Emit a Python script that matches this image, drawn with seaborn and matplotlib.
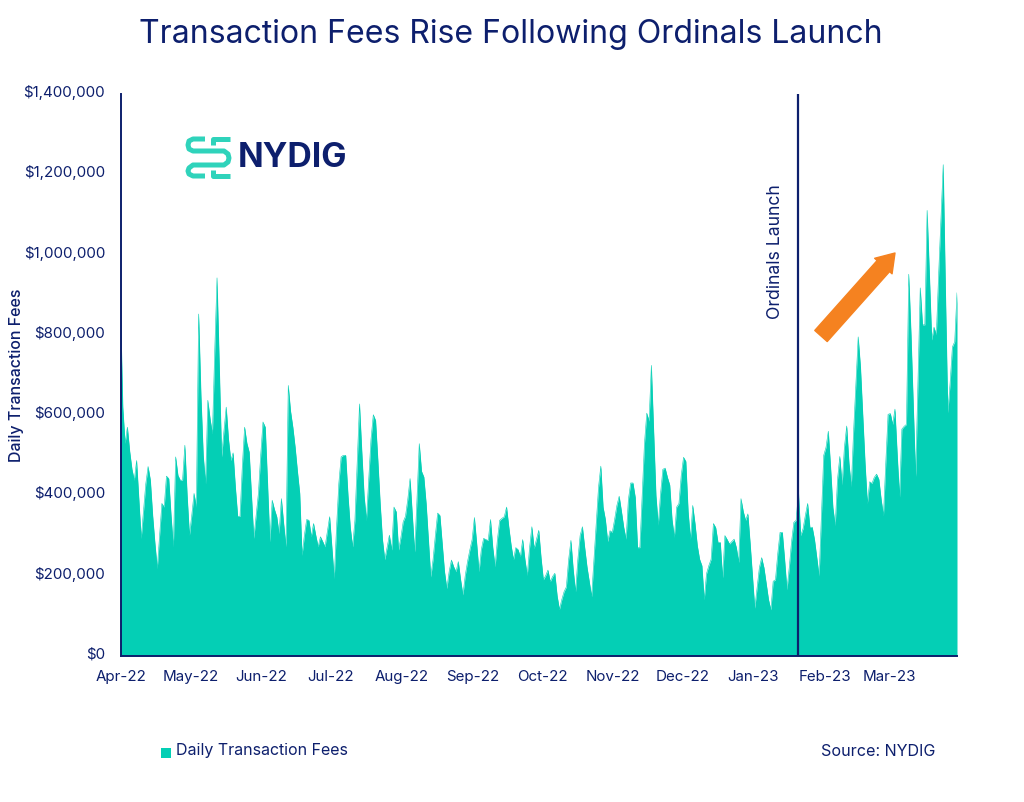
# =========================================
# TRANSACTION FEES FOLLOWING ORDINALS LAUNCH
# =========================================

import numpy as np
import pandas as pd

import matplotlib
matplotlib.use("Agg")
import matplotlib.pyplot as plt
import matplotlib.dates as mdates
from matplotlib.ticker import FuncFormatter
from matplotlib.transforms import ScaledTranslation
import seaborn as sns


# =========================================
# DATA (daily fees in $ thousands)
# =========================================

apr_22 = [870, 620, 530, 570, 510, 465, 438, 487, 390, 293, 360, 429, 472, 438, 350,
          280, 218, 300, 380, 371, 448, 442, 350, 272, 496, 450, 438, 438, 525, 400]
may_22 = [301, 350, 405, 371, 852, 650, 500, 429, 637, 590, 554, 760, 942, 720, 496, 560,
          620, 540, 487, 506, 420, 348, 348, 472, 570, 530, 508, 400, 293, 350, 405]
jun_22 = [500, 583, 570, 430, 284, 388, 365, 347, 305, 392, 330, 272, 674, 610, 570,
          520, 460, 405, 251, 300, 340, 338, 297, 330, 300, 272, 297, 285, 272, 310]
jul_22 = [347, 270, 193, 320, 430, 496, 500, 500, 400, 320, 272, 338, 480, 628, 510, 400,
          338, 440, 540, 601, 587, 487, 380, 290, 240, 270, 301, 264, 371, 359, 264]
aug_22 = [295, 334, 348, 390, 442, 350, 259, 390, 529, 460, 446, 380, 290, 197, 240, 300,
          356, 350, 280, 210, 168, 210, 239, 222, 210, 235, 190, 152, 200, 235, 264]
sep_22 = [290, 345, 280, 210, 265, 293, 290, 288, 340, 270, 222, 290, 338, 343, 347,
          371, 320, 275, 240, 270, 265, 247, 290, 240, 201, 270, 322, 268, 290, 313]
oct_22 = [245, 190, 200, 214, 185, 198, 206, 150, 116, 140, 160, 172, 240, 288, 215, 160,
          240, 300, 322, 270, 222, 185, 148, 240, 330, 420, 473, 371, 340, 285, 312]
nov_22 = [308, 340, 375, 398, 360, 320, 291, 390, 431, 431, 395, 270, 270, 400, 530,
          605, 585, 724, 560, 400, 326, 405, 465, 468, 445, 426, 340, 296, 371, 380]
dec_22 = [450, 495, 485, 360, 291, 375, 330, 275, 241, 225, 140, 205, 225, 241, 330, 320,
          283, 283, 195, 300, 290, 279, 285, 291, 270, 233, 392, 360, 338, 354, 280]
jan_23 = [200, 119, 170, 220, 245, 220, 180, 140, 115, 186, 190, 255, 308, 308, 240, 165,
          220, 285, 333, 338, 409, 300, 317, 350, 380, 320, 321, 290, 245, 199, 350]
feb_23 = [500, 520, 560, 470, 370, 325, 440, 497, 426, 520, 573, 480, 422, 560,
          680, 795, 720, 600, 480, 380, 434, 430, 445, 453, 440, 390, 350, 480]
mar_23 = [602, 604, 577, 615, 500, 396, 565, 572, 577, 951, 800, 620, 447, 680, 917, 825,
          825, 1110, 950, 787, 819, 800, 950, 1090, 1224, 900, 606, 680, 770, 783, 905]

start_date = "2022-04-01"
launch_date = "2023-01-21"
y_ticks = [0, 200000, 400000, 600000, 800000, 1000000, 1200000, 1400000]


# =========================================
# STYLE
# =========================================

NAVY = "#0d1f6d"
TEAL = "#04cfb5"
LOGO_TEAL = "#2fd3bb"
ORANGE = "#f58220"

sns.set_theme(style="white")
plt.rcParams["font.family"] = ["Inter", "DejaVu Sans"]


# =========================================
# BUILD TABLE
# =========================================

fees_k = apr_22 + may_22 + jun_22 + jul_22 + aug_22 + sep_22 + oct_22 + nov_22 + dec_22 + jan_23 + feb_23 + mar_23

df = pd.DataFrame({
    "date": pd.date_range(start_date, periods=len(fees_k), freq="D"),
    "fees": np.array(fees_k) * 1000
})


# =========================================
# MAIN CHART
# =========================================

fig = plt.figure(figsize=(10.24, 8.02), dpi=100, facecolor="white")

ax = fig.add_axes([120.5 / 1024, 1 - 656 / 802, (957 - 120.5) / 1024, (656 - 94) / 802])

sns.lineplot(data=df, x="date", y="fees", ax=ax, color=TEAL, linewidth=0.4)

ax.fill_between(df["date"], df["fees"], 0, color=TEAL, linewidth=0)

ax.axvline(pd.Timestamp(launch_date), color=NAVY, linewidth=1.6, zorder=5)

ax.set_xlim(df["date"].iloc[0], df["date"].iloc[-1])
ax.set_ylim(0, 1400000)

ax.set_yticks(y_ticks)
ax.yaxis.set_major_formatter(FuncFormatter(lambda v, _: f"${v:,.0f}"))

ax.xaxis.set_major_locator(mdates.MonthLocator())
ax.xaxis.set_major_formatter(mdates.DateFormatter("%b-%y"))

ax.tick_params(axis="both", length=0, labelsize=10.9, labelcolor=NAVY)
ax.tick_params(axis="x", pad=10)
ax.tick_params(axis="y", pad=11)

# y labels sit a little above their value, x labels a little to the right
y_shift = ScaledTranslation(0, 3 / 100, fig.dpi_scale_trans)
for label in ax.get_yticklabels():
    label.set_transform(label.get_transform() + y_shift)

x_shift = ScaledTranslation(1 / 100, 0, fig.dpi_scale_trans)
for label in ax.get_xticklabels():
    label.set_transform(label.get_transform() + x_shift)

ax.set_xlabel("")
ax.set_ylabel("")

sns.despine(ax=ax)
for side in ["left", "bottom"]:
    ax.spines[side].set_color(NAVY)
    ax.spines[side].set_linewidth(1.4)


# =========================================
# OVERLAY IN PIXEL COORDINATES (title, logo, arrow, notes)
# =========================================

top = fig.add_axes([0, 0, 1, 1], facecolor="none")
top.set_xlim(0, 1024)
top.set_ylim(802, 0)
top.axis("off")

top.text(511, 35, "Transaction Fees Rise Following Ordinals Launch", color=NAVY,
         fontsize=23.05, ha="center", va="center")

top.text(17, 375, "Daily Transaction Fees", color=NAVY, fontsize=11.5, fontweight="medium",
         rotation=90, ha="center", va="center")

top.text(775, 252, "Ordinals Launch", color=NAVY, fontsize=12.7,
         rotation=90, ha="center", va="center")

top.annotate("", xy=(895, 253), xytext=(821, 336),
             arrowprops=dict(arrowstyle="simple,head_width=1.4,head_length=1.05,tail_width=1.0",
                             color=ORANGE, shrinkA=0, shrinkB=0, mutation_scale=12))

# legend and source
top.scatter([166], [753], marker="s", s=55, color=TEAL, linewidths=0)
top.text(176, 751, "Daily Transaction Fees", color=NAVY, fontsize=11.5, ha="left", va="center")
top.text(821, 752, "Source: NYDIG", color=NAVY, fontsize=11.6, ha="left", va="center")

# logo
logo_x = [205, 193, 189, 188, 189, 193, 224, 228, 229, 228, 224, 193, 189, 188, 189, 193, 205]
logo_y = [139, 139, 141, 145, 149, 151, 151, 154, 158, 162, 165, 165, 168, 171, 174, 176, 176]
top.plot(logo_x, logo_y, color=LOGO_TEAL, linewidth=3.6, solid_capstyle="butt")
top.plot([230, 213, 213], [139, 139, 145], color=LOGO_TEAL, linewidth=3.6, solid_capstyle="butt")
top.plot([230, 213, 213], [176, 176, 170], color=LOGO_TEAL, linewidth=3.6, solid_capstyle="butt")
top.text(238, 158, "NYDIG", color=NAVY, fontsize=24.3, fontweight="bold", ha="left", va="center")


# =========================================
# SAVE
# =========================================

fig.savefig("out.png", dpi=100, facecolor="white")
